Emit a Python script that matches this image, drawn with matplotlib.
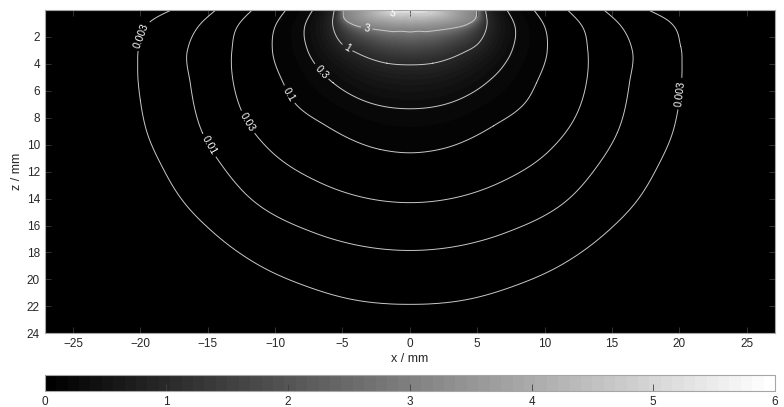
import numpy as np
import matplotlib
matplotlib.use('Agg')
import matplotlib.pyplot as plt

plt.rcParams['font.family'] = ['Liberation Sans', 'DejaVu Sans']

# contour levels and the peak value at the surface centre
levels = [0.003, 0.01, 0.03, 0.1, 0.3, 1, 3, 5]
peak_value = 5.8

# contour outlines (left half, |x| in mm, z in mm),
# from the surface (z=0) down to the axis (x=0)
c_0003_x = [17.7, 19.1, 20.1, 20.2, 20.0, 19.5, 18.4, 16.9, 14.6, 11.1, 7.7, 4.2, 0.0]
c_0003_z = [0.0, 0.74, 2.7, 4.2, 6.7, 9.1, 11.6, 14.1, 16.5, 19.0, 20.5, 21.5, 21.85]
c_001_x = [14.4, 15.7, 16.5, 16.3, 15.4, 13.9, 11.7, 7.2, 0.0]
c_001_z = [0.0, 1.23, 2.96, 5.4, 9.1, 11.6, 14.1, 16.5, 17.85]
c_003_x = [11.7, 12.8, 13.2, 13.1, 12.3, 10.4, 6.7, 0.0]
c_003_z = [0.0, 1.23, 2.96, 5.4, 7.9, 10.4, 12.8, 14.3]
c_01_x = [9.2, 10.0, 10.2, 9.4, 8.7, 6.2, 2.2, 0.0]
c_01_z = [0.0, 1.23, 2.96, 5.4, 6.7, 8.6, 10.35, 10.6]
c_03_x = [7.2, 7.8, 7.6, 6.9, 5.7, 3.5, 0.0]
c_03_z = [0.0, 1.23, 2.96, 4.2, 5.4, 6.7, 7.33]
c_1_x = [5.6, 5.7, 5.1, 3.9, 1.7, 0.0]
c_1_z = [0.0, 1.23, 2.46, 3.2, 3.95, 4.07]
c_3_x = [5.0, 4.8, 4.2, 3.2, 1.0, 0.0]
c_3_z = [0.0, 0.74, 1.1, 1.35, 1.6, 1.63]
c_5_x = [1.5, 1.4, 0.8, 0.4, 0.0]
c_5_z = [0.0, 0.2, 0.28, 0.3, 0.3]

outlines = [(c_0003_x, c_0003_z), (c_001_x, c_001_z), (c_003_x, c_003_z),
            (c_01_x, c_01_z), (c_03_x, c_03_z), (c_1_x, c_1_z),
            (c_3_x, c_3_z), (c_5_x, c_5_z)]

# where the labels sit (x, z)
label_pos = [(-19.5, 2.0), (20.0, 6.2), (-14.8, 10.0), (-12.0, 8.3),
             (-9.0, 6.3), (-6.7, 4.7), (-4.7, 2.9), (-3.2, 1.35), (-1.3, 0.25)]

x_ticks = [-25, -20, -15, -10, -5, 0, 5, 10, 15, 20, 25]
z_ticks = [2, 4, 6, 8, 10, 12, 14, 16, 18, 20, 22, 24]
cb_ticks = [0, 1, 2, 3, 4, 5, 6]


def smooth_interp(q, t, y):
    # cubic hermite through the read points, flat at the axis (t = 90 deg)
    t = np.asarray(t, float); y = np.asarray(y, float)
    h = np.diff(t)
    d = np.diff(y) / h
    m = np.empty_like(y)
    m[0] = d[0]
    m[-1] = 0.0
    m[1:-1] = (d[:-1] * h[1:] + d[1:] * h[:-1]) / (h[:-1] + h[1:])
    q = np.clip(q, t[0], t[-1])
    i = np.clip(np.searchsorted(t, q) - 1, 0, len(t) - 2)
    s = (q - t[i]) / h[i]
    h00 = 2 * s**3 - 3 * s**2 + 1
    h10 = s**3 - 2 * s**2 + s
    h01 = -2 * s**3 + 3 * s**2
    h11 = s**3 - s**2
    return h00 * y[i] + h10 * h[i] * m[i] + h01 * y[i + 1] + h11 * h[i] * m[i + 1]


# build the field on a grid so that its iso-lines follow the outlines above
xs = np.linspace(-27.1, 27.1, 1085)
zs = np.linspace(0, 24, 481)
X, Z = np.meshgrid(xs, zs)
R = np.hypot(X, Z)
TH = np.arctan2(Z, np.abs(X))

knots = [np.zeros_like(R)]
vals = [np.log(peak_value)]
for (cx, cz), lev in zip(outlines[::-1], levels[::-1]):
    cx = np.array(cx); cz = np.array(cz)
    knots.append(smooth_interp(TH, np.arctan2(cz, cx), np.hypot(cx, cz)))
    vals.append(np.log(lev))
knots.append(knots[-1] + 15)
vals.append(np.log(1e-4))

logf = np.full_like(R, np.log(1e-4))
for i in range(len(knots) - 1):
    m = (R >= knots[i]) & (R < knots[i + 1])
    t = (R - knots[i]) / (knots[i + 1] - knots[i])
    seg = vals[i] + t * (vals[i + 1] - vals[i])
    logf[m] = seg[m]
field = np.exp(logf)

fig = plt.figure(figsize=(7.84, 4.07), dpi=100)
ax = fig.add_axes([44.7 / 784, 1 - 333.3 / 407, 730.3 / 784, 323.3 / 407])
cax = fig.add_axes([44.7 / 784, 1 - 390.7 / 407, 730.3 / 784, 15.7 / 407])

cmap = plt.get_cmap('gray', 64)
im = ax.imshow(field, cmap=cmap, vmin=0, vmax=6, origin='upper',
               extent=[xs[0], xs[-1], zs[-1], zs[0]], aspect='auto',
               interpolation='bilinear')
cs = ax.contour(X, Z, field, levels=levels, colors='#c8c8c8', linewidths=0.7)
ax.clabel(cs, fmt='%g', fontsize=7.5, colors='white', manual=label_pos,
          inline=True, inline_spacing=3)

ax.set_xlim(-27.1, 27.1)
ax.set_ylim(24, 0)
ax.set_xticks(x_ticks)
ax.set_yticks(z_ticks)
ax.tick_params(direction='in', top=True, right=True, length=4, width=0.6,
               color='#3c3c3c', labelsize=8.5, labelcolor='#262626', pad=3.5)
for s in ax.spines.values():
    s.set_color('#a6a6a6')
    s.set_linewidth(0.8)
ax.set_xlabel('x / mm', fontsize=9, color='#262626')
ax.set_ylabel('z / mm', fontsize=9, color='#262626')
ax.xaxis.set_label_coords(0.5, -0.06)
ax.yaxis.set_label_coords(-0.03, 0.5)

cb = fig.colorbar(im, cax=cax, orientation='horizontal', ticks=cb_ticks)
cb.outline.set_edgecolor('#a6a6a6')
cb.outline.set_linewidth(0.8)
cax.tick_params(direction='in', length=5, width=0.6, color='#404040',
                labelsize=8.5, labelcolor='#262626', pad=3.5)

fig.savefig('out.png', dpi=100)
